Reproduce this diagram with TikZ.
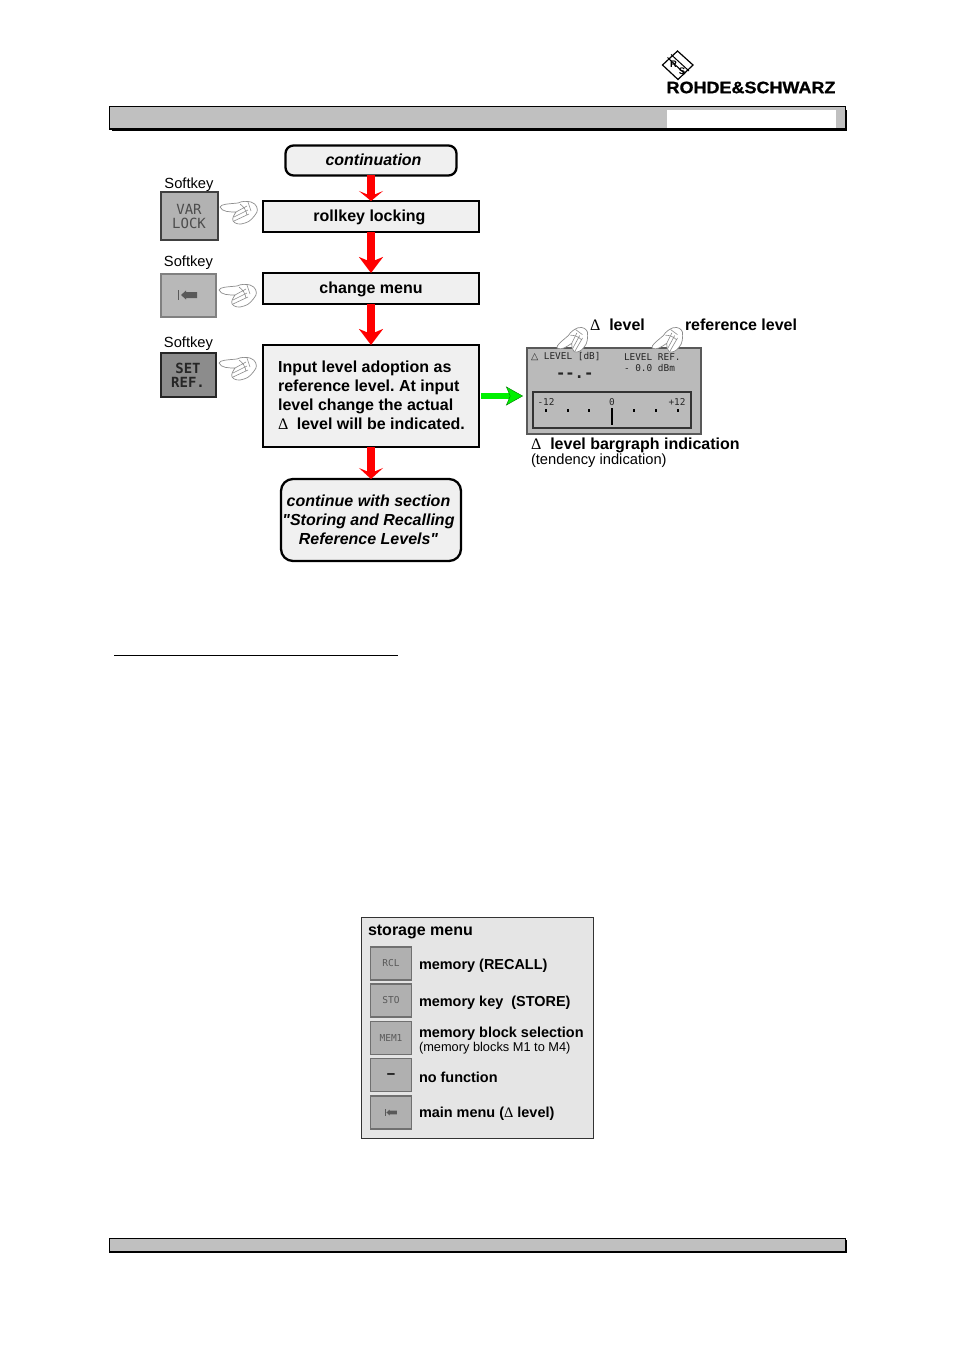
\documentclass[tikz,border=0pt]{standalone}
\usepackage{fontspec}
\setmainfont{Liberation Sans}[Ligatures=TeXOff]
\newfontfamily\symf{Liberation Serif}
\newfontfamily\monof{DejaVu Sans Mono}
\newfontfamily\dejav{DejaVu Sans}
\newfontfamily\logof{Liberation Sans Bold}[FakeBold=1]
\usetikzlibrary{arrows.meta}
\newcommand{\dlt}{{\symf\upshape\mdseries Δ}}
\newcommand{\dn}[2]{\raisebox{-#1pt}[\height][\depth]{#2}}
\tikzset{
  lbl/.style={inner sep=0pt,outer sep=0pt,anchor=west},
  boldtxt/.style={font=\fontsize{16}{19}\selectfont\bfseries},
  regtxt/.style={font=\fontsize{14.7}{17}\selectfont},
  flowbox/.style={draw=black,line width=2.3pt,fill=boxfill,inner sep=0pt,outer sep=0pt,align=center,boldtxt},
  roundbox/.style={flowbox,rounded corners=8pt},
  redarrow/.style={draw=red,line width=8pt,-{Stealth[length=#1,width=24pt,inset=5pt,fill=red]}},
  redarrow/.default=11pt,
  greenarrow/.style={draw=lime,line width=6.5pt,-{Stealth[length=17pt,width=19pt,inset=4pt,fill=lime,color=green!45!black,line width=.4pt]}},
  softkey/.style={inner sep=0pt,outer sep=0pt,line width=2pt,align=center},
  smallkey/.style={inner sep=0pt,outer sep=0pt,draw=keyedge,fill=keyfill,line width=1.6pt,minimum width=41pt,minimum height=33pt,text=black!65,font=\fontsize{9.5}{11}\selectfont\monof},
  disptxt/.style={inner sep=0pt,outer sep=0pt,anchor=west,text=black!85,font=\fontsize{9.4}{11}\selectfont\monof},
  bar/.style={draw=black,line width=1.5pt,fill=barfill},
  shadow/.style={fill=black},
  hand/.pic={
    \draw[draw=black!45,fill=white,line width=.7pt,line join=round]
      (0,0) .. controls (1,-3) and (8,-3) .. (18,-4) .. controls (22,-6) and (27,-6) .. (31,-5)
      .. controls (37,-3) and (38,2) .. (37,5) .. controls (34,10) and (30,15) .. (25,16)
      .. controls (20,18) and (15,17) .. (13,14) .. controls (12,11) and (14,8) .. (16,5)
      .. controls (10,5) and (2,5) .. (0,0) -- cycle;
    \draw[draw=black!45,line width=.6pt] (16,5) -- (27,-1) (14,10) -- (28,3) (14,14) -- (29,7) (20,-3) .. controls (24,0) and (26,3) .. (27,8) (28,-5) -- (31,4);
  },
  backicon/.pic={
    \fill[black!65] (-10,-5) rectangle (-9,5);
    \fill[black!65] (-7,0) -- (-2,-4.5) -- (-2,-3) -- (9,-3) -- (9,3) -- (-2,3) -- (-2,4.5) -- cycle;
  },
}
\definecolor{boxfill}{HTML}{F0F0F0}
\definecolor{barfill}{HTML}{C0C0C0}
\definecolor{keyfill}{HTML}{B0B0B0}
\definecolor{keyedge}{HTML}{707070}
\definecolor{lime}{HTML}{00F000}
\begin{document}
\frenchspacing
\begin{tikzpicture}[x=1pt,y=-1pt]
\useasboundingbox (0,0) rectangle (954,1351);
% logo
\node[inner sep=0pt,outer sep=0pt] (logotext) at (751,87.5) {\scalebox{1.09}[1]{\fontsize{16.5}{18}\selectfont\logof ROHDE\&SCHWARZ}};
\draw[line width=1.2pt] (677.5,51) -- (693,65) -- (678,79.5) -- (662.5,65) -- cycle;
\draw[line width=1pt] (667.5,57.5) -- (685,74);
\draw[line width=1pt] (671,54.5) -- (689,71);
\node[inner sep=0pt,font=\fontsize{9.5}{10}\selectfont\bfseries] (logor) at (673.5,64) {R};
\node[inner sep=0pt,font=\fontsize{9.5}{10}\selectfont\bfseries] (logos) at (682,71) {S};
% header
\fill[shadow] (112,110) rectangle (847,131.5);
\node[bar,minimum width=736pt,minimum height=22.5pt,inner sep=0pt] (header) at (477.5,118) {};
\fill[white] (667,110) rectangle (836,128);
% footer
\fill[shadow] (112,1240) rectangle (847,1253);
\node[bar,minimum width=736pt,minimum height=13.5pt,inner sep=0pt] (footer) at (477.5,1245) {};
% flow boxes
\node[roundbox,minimum width=171pt,minimum height=30pt] (cont) at (371,160.5)
  {\dn{1}{\begin{tabular}{@{\hspace{5pt}}c@{}}\itshape continuation\end{tabular}}};
\node[flowbox,minimum width=216pt,minimum height=31pt] (roll) at (371,216.5)
  {\dn{1.5}{\begin{tabular}{@{}c@{\hspace{3pt}}}rollkey locking\end{tabular}}};
\node[flowbox,minimum width=216pt,minimum height=31pt] (change) at (371,288.5)
  {\dn{1.5}{\begin{tabular}{@{}c@{}}change menu\end{tabular}}};
\node[flowbox,minimum width=216pt,minimum height=102pt,align=left] (input) at (371,396)
  {\dn{1.5}{\begin{tabular}{@{\hspace{1pt}}l@{}}Input level adoption as\\reference level. At input\\level change the actual\\\dlt{}\hspace{8.5pt}level will be indicated.\end{tabular}}};
\node[roundbox,rounded corners=12pt,minimum width=180pt,minimum height=82pt] (next) at (371,520)
  {\dn{2}{\begin{tabular}{@{}c@{\hspace{5pt}}}\itshape continue with section\\\itshape "Storing and Recalling\\\itshape Reference Levels"\end{tabular}}};
% arrows
\draw[redarrow=10pt] (cont) -- (roll);
\draw[redarrow=16pt] (roll) -- (change);
\draw[redarrow=16pt] (change) -- (input);
\draw[redarrow=11pt] (input) -- (next);
% softkeys
\node[regtxt,inner sep=0pt] (sk1) at (189,185) {Softkey};
\node[regtxt,inner sep=0pt] (sk2) at (188.5,263) {Softkey};
\node[regtxt,inner sep=0pt] (sk3) at (188.5,344) {Softkey};
\node[softkey,draw=black!75,fill=black!30,minimum width=57pt,minimum height=47pt,text=black!70,font=\fontsize{14}{14}\selectfont\monof] (k1) at (189,216) {VAR\\LOCK};
\node[softkey,draw=black!50,fill=black!28,minimum width=55pt,minimum height=43pt] (k2) at (188,295) {};
\pic at (k2) {backicon};
\node[softkey,draw=black!85,fill=black!45,minimum width=55pt,minimum height=44pt,text=black!85,font=\fontsize{14}{14}\selectfont\monof\bfseries] (k3) at (188,375) {SET\\REF.};
\pic at (220,207) {hand};
\pic at (219,290) {hand};
\pic at (219,363) {hand};
% green arrow and display
\node[draw=black!65,fill=black!27,line width=1.5pt,inner sep=0pt,outer sep=0pt,minimum width=174pt,minimum height=86pt] (disp) at (614,391) {};
\draw[greenarrow,shorten <=2pt,shorten >=4pt] (input.east |- 0,396) -- (disp.west |- 0,396);
\node[disptxt] (dt1) at (531,357) {{\dejav △} LEVEL [dB]};
\node[disptxt] (dt2) at (624,357) {LEVEL REF.};
\node[disptxt] (dt3) at (624,368) {- 0.0 dBm};
\node[disptxt,font=\fontsize{15.5}{15.5}\selectfont\monof\bfseries] (dt4) at (556,376) {--.-};
\node[draw=black!80,line width=1.3pt,inner sep=0pt,outer sep=0pt,minimum width=158pt,minimum height=36pt] (graph) at (612,410) {};
\node[disptxt,anchor=center] (g1) at (546,402) {-12};
\node[disptxt,anchor=center] (g2) at (612,402) {0};
\node[disptxt,anchor=center] (g3) at (677,402) {+12};
\foreach \tx in {546,568,589,634,656,678} \fill[black] (\tx-1,408.5) rectangle (\tx+1,412);
\fill[black] (611,408) rectangle (613,424.5);
\pic[rotate=35,scale=.92] at (557,348) {hand};
\pic[rotate=35,scale=.92] at (652,348) {hand};
\node[lbl,boldtxt] (l1) at (590,324.5) {\dlt{}\hspace{9pt}level};
\node[lbl,boldtxt] (l2) at (685,324.5) {reference level};
\node[lbl,boldtxt] (l3) at (531,445) {\dlt{}\hspace{9pt}level bargraph indication};
\node[lbl,regtxt] (l4) at (531,461) {(tendency indication)};
% rule
\draw[line width=1.5pt] (114,655.5) -- (398,655.5);
% storage menu
\node[draw=black!80,fill=black!10,line width=1pt,inner sep=0pt,outer sep=0pt,minimum width=232pt,minimum height=221pt] (panel) at (477.5,1028) {};
\node[lbl,boldtxt] (st) at (368,932) {storage menu};
\node[smallkey] (m1) at (391,963.5) {RCL};
\node[smallkey] (m2) at (391,1000.5) {STO};
\node[smallkey] (m3) at (391,1038) {MEM1};
\node[smallkey,font=\fontsize{15}{15}\selectfont\bfseries,text=black] (m4) at (391,1075) {\dn{1.5}{–}};
\node[smallkey] (m5) at (391,1112.5) {};
\pic[scale=.65] at (m5) {backicon};
\tikzset{mtxt/.style={lbl,font=\fontsize{14.45}{17}\selectfont\bfseries}}
\node[mtxt] (t1) at (419,966) {memory (RECALL)};
\node[mtxt] (t2) at (419,1002.5) {memory key\hspace{4pt} (STORE)};
\node[mtxt] (t3) at (419,1033.5) {memory block selection};
\node[lbl,font=\fontsize{12.8}{15}\selectfont] (t3b) at (419,1048.5) {(memory blocks M1 to M4)};
\node[mtxt] (t4) at (419,1077) {no function};
\node[mtxt] (t5) at (419,1113.5) {main menu (\dlt{} level)};
\end{tikzpicture}
\end{document}
